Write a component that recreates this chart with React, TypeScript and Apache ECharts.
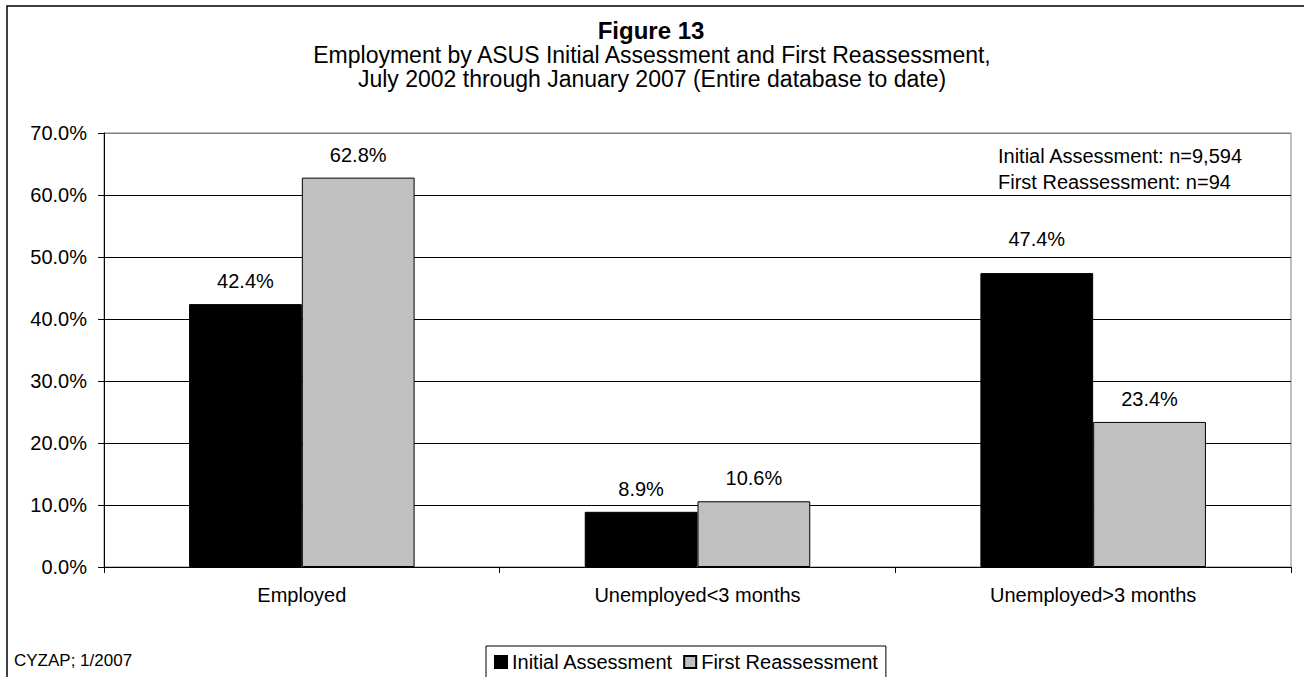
import React, { useEffect, useRef } from "react";
import * as echarts from "echarts";

const categories = ["Employed", "Unemployed<3 months", "Unemployed>3 months"];
const initialAssessment = [42.4, 8.9, 47.4];
const firstReassessment = [62.8, 10.6, 23.4];
const seriesNames = ["Initial Assessment", "First Reassessment"];
const titleText = "Figure 13";
const subtitleLines = [
  "Employment by ASUS Initial Assessment and First Reassessment,",
  "July 2002 through January 2007 (Entire database to date)",
];
const noteLines = ["Initial Assessment: n=9,594", "First Reassessment: n=94"];
const sourceText = "CYZAP; 1/2007";

const FONT = "'Liberation Sans', Arial, sans-serif";

export default function App() {
  const ref = useRef<HTMLDivElement>(null);
  useEffect(() => {
    document.body.style.margin = "0";
    const chart = echarts.init(ref.current!, null, { renderer: "svg" });
    const labelStyle = {
      show: true,
      position: "top",
      distance: 13,
      fontSize: 20,
      color: "#000",
      fontFamily: FONT,
      formatter: (p: any) => p.value.toFixed(1) + "%",
    };
    // the label above the last black bar sits higher in the reference
    const initialData = initialAssessment.map((v, i) =>
      i === 2 ? { value: v, label: { distance: 24 } } : v
    );
    chart.setOption({
      animation: false,
      backgroundColor: "#fff",
      textStyle: { fontFamily: FONT, color: "#000" },
      grid: {
        left: 104,
        right: 13,
        top: 133,
        bottom: 110,
        show: true,
        borderColor: "#808080",
        borderWidth: 1,
        backgroundColor: "transparent",
      },
      xAxis: {
        type: "category",
        data: categories,
        axisLine: { lineStyle: { color: "#000", width: 1 } },
        axisTick: { show: true, length: 6, lineStyle: { color: "#000" } },
        axisLabel: { fontSize: 20, color: "#000", margin: 18, fontFamily: FONT },
        splitLine: { show: false },
      },
      yAxis: {
        type: "value",
        min: 0,
        max: 70,
        interval: 10,
        axisLine: { show: true, lineStyle: { color: "#000", width: 1 } },
        axisTick: { show: true, length: 6, inside: false, lineStyle: { color: "#000" } },
        axisLabel: {
          fontSize: 20,
          color: "#000",
          margin: 17,
          fontFamily: FONT,
          formatter: (v: number) => v.toFixed(1) + "%",
        },
        splitLine: {
          show: true,
          lineStyle: {
            color: ["#000", "#000", "#000", "#000", "#000", "#000", "#000", "#808080"],
            width: 1,
          },
        },
      },
      legend: {
        data: seriesNames,
        left: 486,
        top: 646,
        orient: "horizontal",
        icon: "rect",
        itemWidth: 12,
        itemHeight: 12,
        itemGap: 10,
        borderColor: "#000",
        borderWidth: 1,
        padding: [6, 8, 12, 8],
        textStyle: { fontSize: 20, color: "#000", fontFamily: FONT },
      },
      series: [
        {
          name: seriesNames[0],
          type: "bar",
          data: initialData,
          barGap: "0%",
          barCategoryGap: "43%",
          itemStyle: { color: "#000", borderColor: "#000", borderWidth: 1 },
          label: labelStyle,
        },
        {
          name: seriesNames[1],
          type: "bar",
          data: firstReassessment,
          itemStyle: { color: "#C0C0C0", borderColor: "#000", borderWidth: 1 },
          label: labelStyle,
        },
      ],
      graphic: [
        {
          type: "rect",
          shape: { x: 7, y: 6, width: 1310, height: 700 },
          style: { fill: "none", stroke: "#000", lineWidth: 1.5 },
          silent: true,
        },
        {
          type: "text",
          x: 651,
          y: 18,
          style: {
            text: titleText,
            fontSize: 24,
            fontWeight: "bold",
            fontFamily: FONT,
            fill: "#000",
            align: "center",
            verticalAlign: "top",
          },
        },
        {
          type: "text",
          x: 652,
          y: 43,
          style: {
            text: subtitleLines.join("\n"),
            fontSize: 23,
            lineHeight: 24,
            fontFamily: FONT,
            fill: "#000",
            align: "center",
            verticalAlign: "top",
          },
        },
        {
          type: "text",
          x: 998,
          y: 143,
          style: {
            text: noteLines.join("\n"),
            fontSize: 20,
            lineHeight: 26,
            fontFamily: FONT,
            fill: "#000",
            align: "left",
            verticalAlign: "top",
          },
        },
        {
          type: "text",
          x: 14,
          y: 652,
          style: {
            text: sourceText,
            fontSize: 17,
            fontFamily: FONT,
            fill: "#000",
            align: "left",
            verticalAlign: "top",
          },
        },
      ],
    });
    return () => chart.dispose();
  }, []);
  return <div ref={ref} style={{ width: 1304, height: 677 }} />;
}
